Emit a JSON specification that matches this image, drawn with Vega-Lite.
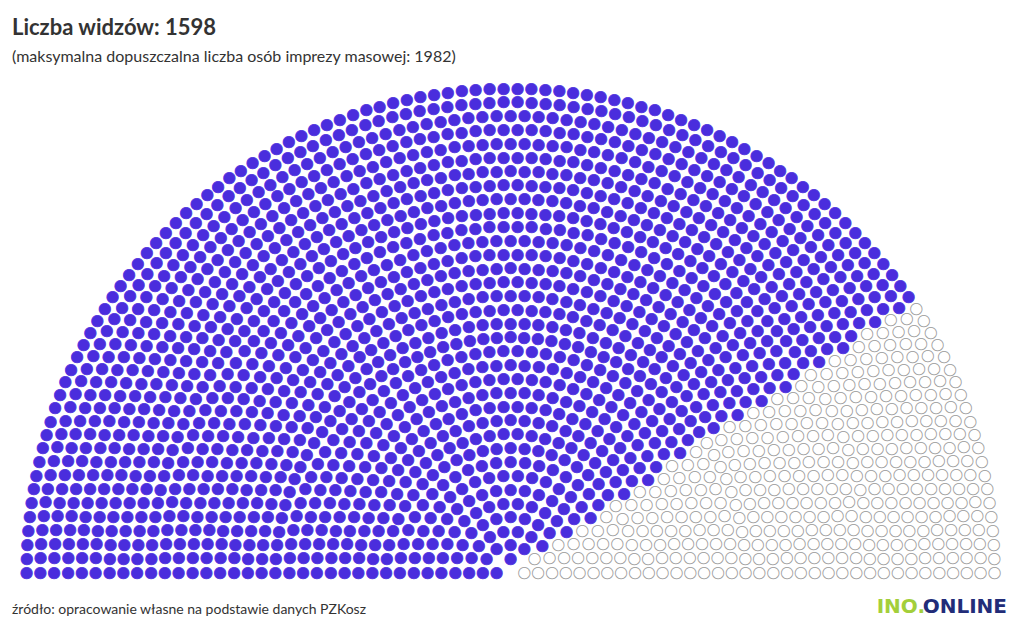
{
  "$schema": "https://vega.github.io/schema/vega-lite/v6.json",
  "width": 1021,
  "height": 491.5,
  "autosize": "none",
  "padding": {"left": 0, "top": 80, "right": 0, "bottom": 62},
  "background": "#ffffff",
  "config": {"view": {"stroke": null}},
  "title": {
    "text": "Liczba widzów: 1598",
    "subtitle": "(maksymalna dopuszczalna liczba osób imprezy masowej: 1982)",
    "anchor": "start",
    "frame": "group",
    "dx": 12,
    "offset": 14,
    "font": "Lato",
    "fontSize": 22,
    "fontWeight": "bold",
    "color": "#333333",
    "subtitleFont": "Lato",
    "subtitleFontSize": 16,
    "subtitleColor": "#333333",
    "subtitlePadding": 9
  },
  "layer": [
    {
      "data": {"values": [
        1,1,1,
        2,2,2,2,2,2,2,
        3,3,3,3,3,3,3,3,3,3,
        4,4,4,4,4,4,4,4,4,4, 4,4,4,
        5,5,5,5,5,5,5,5,5,5, 5,5,5,5,5,5,
        6,6,6,6,6,6,6,6,6,6, 6,6,6,6,6,6,6,6,6,
        7,7,7,7,7,7,7,7,7,7, 7,7,7,7,7,7,7,7,7,7, 7,7,
        8,8,8,8,8,8,8,8,8,8, 8,8,8,8,8,8,8,8,8,8, 8,8,8,8,8,
        9,9,9,9,9,9,9,9,9,9, 9,9,9,9,9,9,9,9,9,9, 9,9,9,9,9,9,9,9,9,
        10,10,10,10,10,10,10,10,10,10, 10,10,10,10,10,10,10,10,10,10, 10,10,10,10,10,10,10,10,10,10, 10,10,
        11,11,11,11,11,11,11,11,11,11, 11,11,11,11,11,11,11,11,11,11, 11,11,11,11,11,11,11,11,11,11, 11,11,11,11,11,
        12,12,12,12,12,12,12,12,12,12, 12,12,12,12,12,12,12,12,12,12, 12,12,12,12,12,12,12,12,12,12, 12,12,12,12,12,12,12,12,
        13,13,13,13,13,13,13,13,13,13, 13,13,13,13,13,13,13,13,13,13, 13,13,13,13,13,13,13,13,13,13, 13,13,13,13,13,13,13,13,13,13, 13,
        14,14,14,14,14,14,14,14,14,14, 14,14,14,14,14,14,14,14,14,14, 14,14,14,14,14,14,14,14,14,14, 14,14,14,14,14,14,14,14,14,14, 14,14,14,14,
        15,15,15,15,15,15,15,15,15,15, 15,15,15,15,15,15,15,15,15,15, 15,15,15,15,15,15,15,15,15,15, 15,15,15,15,15,15,15,15,15,15, 15,15,15,15,15,15,15,
        16,16,16,16,16,16,16,16,16,16, 16,16,16,16,16,16,16,16,16,16, 16,16,16,16,16,16,16,16,16,16, 16,16,16,16,16,16,16,16,16,16, 16,16,16,16,16,16,16,16,16,16,
        17,17,17,17,17,17,17,17,17,17, 17,17,17,17,17,17,17,17,17,17, 17,17,17,17,17,17,17,17,17,17, 17,17,17,17,17,17,17,17,17,17, 17,17,17,17,17,17,17,17,17,17, 17,17,17,17,17,
        18,18,18,18,18,18,18,18,18,18, 18,18,18,18,18,18,18,18,18,18, 18,18,18,18,18,18,18,18,18,18, 18,18,18,18,18,18,18,18,18,18, 18,18,18,18,18,18,18,18,18,18, 18,18,18,18,18,18,18,
        19,19,19,19,19,19,19,19,19,19, 19,19,19,19,19,19,19,19,19,19, 19,19,19,19,19,19,19,19,19,19, 19,19,19,19,19,19,19,19,19,19, 19,19,19,19,19,19,19,19,19,19, 19,19,19,19,19,19,19,19,19,19,
        20,20,20,20,20,20,20,20,20,20, 20,20,20,20,20,20,20,20,20,20, 20,20,20,20,20,20,20,20,20,20, 20,20,20,20,20,20,20,20,20,20, 20,20,20,20,20,20,20,20,20,20, 20,20,20,20,20,20,20,20,20,20, 20,20,20,
        21,21,21,21,21,21,21,21,21,21, 21,21,21,21,21,21,21,21,21,21, 21,21,21,21,21,21,21,21,21,21, 21,21,21,21,21,21,21,21,21,21, 21,21,21,21,21,21,21,21,21,21, 21,21,21,21,21,21,21,21,21,21, 21,21,21,21,21,21,
        22,22,22,22,22,22,22,22,22,22, 22,22,22,22,22,22,22,22,22,22, 22,22,22,22,22,22,22,22,22,22, 22,22,22,22,22,22,22,22,22,22, 22,22,22,22,22,22,22,22,22,22, 22,22,22,22,22,22,22,22,22,22, 22,22,22,22,22,22,22,22,22,
        23,23,23,23,23,23,23,23,23,23, 23,23,23,23,23,23,23,23,23,23, 23,23,23,23,23,23,23,23,23,23, 23,23,23,23,23,23,23,23,23,23, 23,23,23,23,23,23,23,23,23,23, 23,23,23,23,23,23,23,23,23,23, 23,23,23,23,23,23,23,23,23,23, 23,23,
        24,24,24,24,24,24,24,24,24,24, 24,24,24,24,24,24,24,24,24,24, 24,24,24,24,24,24,24,24,24,24, 24,24,24,24,24,24,24,24,24,24, 24,24,24,24,24,24,24,24,24,24, 24,24,24,24,24,24,24,24,24,24, 24,24,24,24,24,24,24,24,24,24, 24,24,24,24,24,
        25,25,25,25,25,25,25,25,25,25, 25,25,25,25,25,25,25,25,25,25, 25,25,25,25,25,25,25,25,25,25, 25,25,25,25,25,25,25,25,25,25, 25,25,25,25,25,25,25,25,25,25, 25,25,25,25,25,25,25,25,25,25, 25,25,25,25,25,25,25,25,25,25, 25,25,25,25,25,25,25,25,
        26,26,26,26,26,26,26,26,26,26, 26,26,26,26,26,26,26,26,26,26, 26,26,26,26,26,26,26,26,26,26, 26,26,26,26,26,26,26,26,26,26, 26,26,26,26,26,26,26,26,26,26, 26,26,26,26,26,26,26,26,26,26, 26,26,26,26,26,26,26,26,26,26, 26,26,26,26,26,26,26,26,26,26, 26,26,
        27,27,27,27,27,27,27,27,27,27, 27,27,27,27,27,27,27,27,27,27, 27,27,27,27,27,27,27,27,27,27, 27,27,27,27,27,27,27,27,27,27, 27,27,27,27,27,27,27,27,27,27, 27,27,27,27,27,27,27,27,27,27, 27,27,27,27,27,27,27,27,27,27, 27,27,27,27,27,27,27,27,27,27, 27,27,27,27,27,
        28,28,28,28,28,28,28,28,28,28, 28,28,28,28,28,28,28,28,28,28, 28,28,28,28,28,28,28,28,28,28, 28,28,28,28,28,28,28,28,28,28, 28,28,28,28,28,28,28,28,28,28, 28,28,28,28,28,28,28,28,28,28, 28,28,28,28,28,28,28,28,28,28, 28,28,28,28,28,28,28,28,28,28, 28,28,28,28,28,28,28,28,
        29,29,29,29,29,29,29,29,29,29, 29,29,29,29,29,29,29,29,29,29, 29,29,29,29,29,29,29,29,29,29, 29,29,29,29,29,29,29,29,29,29, 29,29,29,29,29,29,29,29,29,29, 29,29,29,29,29,29,29,29,29,29, 29,29,29,29,29,29,29,29,29,29, 29,29,29,29,29,29,29,29,29,29, 29,29,29,29,29,29,29,29,29,29, 29,
        30,30,30,30,30,30,30,30,30,30, 30,30,30,30,30,30,30,30,30,30, 30,30,30,30,30,30,30,30,30,30, 30,30,30,30,30,30,30,30,30,30, 30,30,30,30,30,30,30,30,30,30, 30,30,30,30,30,30,30,30,30,30, 30,30,30,30,30,30,30,30,30,30, 30,30,30,30,30,30,30,30,30,30, 30,30,30,30,30,30,30,30,30,30, 30,30,30,30,
        31,31,31,31,31,31,31,31,31,31, 31,31,31,31,31,31,31,31,31,31, 31,31,31,31,31,31,31,31,31,31, 31,31,31,31,31,31,31,31,31,31, 31,31,31,31,31,31,31,31,31,31, 31,31,31,31,31,31,31,31,31,31, 31,31,31,31,31,31,31,31,31,31, 31,31,31,31,31,31,31,31,31,31, 31,31,31,31,31,31,31,31,31,31, 31,31,31,31,31,31,31,
        32,32,32,32,32,32,32,32,32,32, 32,32,32,32,32,32,32,32,32,32, 32,32,32,32,32,32,32,32,32,32, 32,32,32,32,32,32,32,32,32,32, 32,32,32,32,32,32,32,32,32,32, 32,32,32,32,32,32,32,32,32,32, 32,32,32,32,32,32,32,32,32,32, 32,32,32,32,32,32,32,32,32,32, 32,32,32,32,32,32,32,32,32,32, 32,32,32,32,32,32,32,32,32,32,
        33,33,33,33,33,33,33,33,33,33, 33,33,33,33,33,33,33,33,33,33, 33,33,33,33,33,33,33,33,33,33, 33,33,33,33,33,33,33,33,33,33, 33,33,33,33,33,33,33,33,33,33, 33,33,33,33,33,33,33,33,33,33, 33,33,33,33,33,33,33,33,33,33, 33,33,33,33,33,33,33,33,33,33, 33,33,33,33,33,33,33,33,33,33, 33,33,33,33,33,33,33,33,33,33, 33,33,33,
        34,34,34,34,34,34,34,34,34,34, 34,34,34,34,34,34,34,34,34,34, 34,34,34,34,34,34,34,34,34,34, 34,34,34,34,34,34,34,34,34,34, 34,34,34,34,34,34,34,34,34,34, 34,34,34,34,34,34,34,34,34,34, 34,34,34,34,34,34,34,34,34,34, 34,34,34,34,34,34,34,34,34,34, 34,34,34,34,34,34,34,34,34,34, 34,34,34,34,34,34,34,34,34,34, 34,34,34,34,34,34,
        35,35,35,35,35,35,35,35,35,35, 35,35,35,35,35,35,35,35,35,35, 35,35,35,35,35,35,35,35,35,35, 35,35,35,35,35,35,35,35,35,35, 35,35,35,35,35,35,35,35,35,35, 35,35,35,35,35,35,35,35,35,35, 35,35,35,35,35,35,35,35,35,35, 35,35,35,35,35,35,35,35,35,35, 35,35,35,35,35,35,35,35,35,35, 35,35,35,35,35,35,35,35,35,35, 35,35,35,35,35,35,35,35,35,35
      ]},
      "transform": [
        {"window": [{"op": "row_number", "as": "j"}], "groupby": ["data"]},
        {"window": [{"op": "percent_rank", "as": "p"}], "groupby": ["data"], "sort": [{"field": "j", "order": "ascending"}]},
        {"window": [{"op": "row_number", "as": "order"}], "sort": [{"field": "p", "order": "ascending"}, {"field": "data", "order": "descending"}]}
      ],
      "mark": {"type": "text", "text": "●", "font": "DejaVu Sans", "fontSize": 15, "align": "center", "baseline": "middle", "strokeWidth": 0.8},
      "encoding": {
        "theta": {"field": "p", "type": "quantitative", "stack": null, "scale": {"domain": [0, 1], "range": [-1.5707963, 1.5707963]}},
        "radius": {"field": "data", "type": "quantitative", "scale": {"type": "linear", "zero": true, "domain": [0, 35], "range": [0, 484]}},
        "y": {"datum": 0, "type": "quantitative", "scale": {"domain": [0, 1]}, "axis": null},
        "color": {"condition": {"test": "datum.order <= 1598", "value": "#4a2ddd"}, "value": "#ffffff"},
        "stroke": {"condition": {"test": "datum.order <= 1598", "value": "#4a2ddd"}, "value": "#999999"}
      }
    },
    {
      "data": {"values": [{"t": "źródło: opracowanie własne na podstawie danych PZKosz"}]},
      "mark": {"type": "text", "align": "left", "baseline": "alphabetic", "dx": 12, "font": "Lato", "fontSize": 14, "color": "#333333"},
      "encoding": {
        "text": {"field": "t"},
        "x": {"datum": 0, "type": "quantitative", "scale": {"domain": [0, 1]}, "axis": null},
        "y": {"datum": -0.0865, "type": "quantitative", "scale": {"domain": [0, 1]}, "axis": null}
      }
    },
    {
      "data": {"values": [{"t": "ONLINE"}]},
      "mark": {"type": "text", "align": "right", "baseline": "alphabetic", "dx": -14, "font": "DejaVu Sans", "fontSize": 20, "fontWeight": "bold", "color": "#222c78"},
      "encoding": {
        "text": {"field": "t"},
        "x": {"datum": 1, "type": "quantitative", "scale": {"domain": [0, 1]}, "axis": null},
        "y": {"datum": -0.0844, "type": "quantitative", "scale": {"domain": [0, 1]}, "axis": null}
      }
    },
    {
      "data": {"values": [{"t": "INO."}]},
      "mark": {"type": "text", "align": "right", "baseline": "alphabetic", "dx": -96, "font": "DejaVu Sans", "fontSize": 20, "fontWeight": "bold", "color": "#a3cf3a"},
      "encoding": {
        "text": {"field": "t"},
        "x": {"datum": 1, "type": "quantitative", "scale": {"domain": [0, 1]}, "axis": null},
        "y": {"datum": -0.0844, "type": "quantitative", "scale": {"domain": [0, 1]}, "axis": null}
      }
    }
  ]
}
